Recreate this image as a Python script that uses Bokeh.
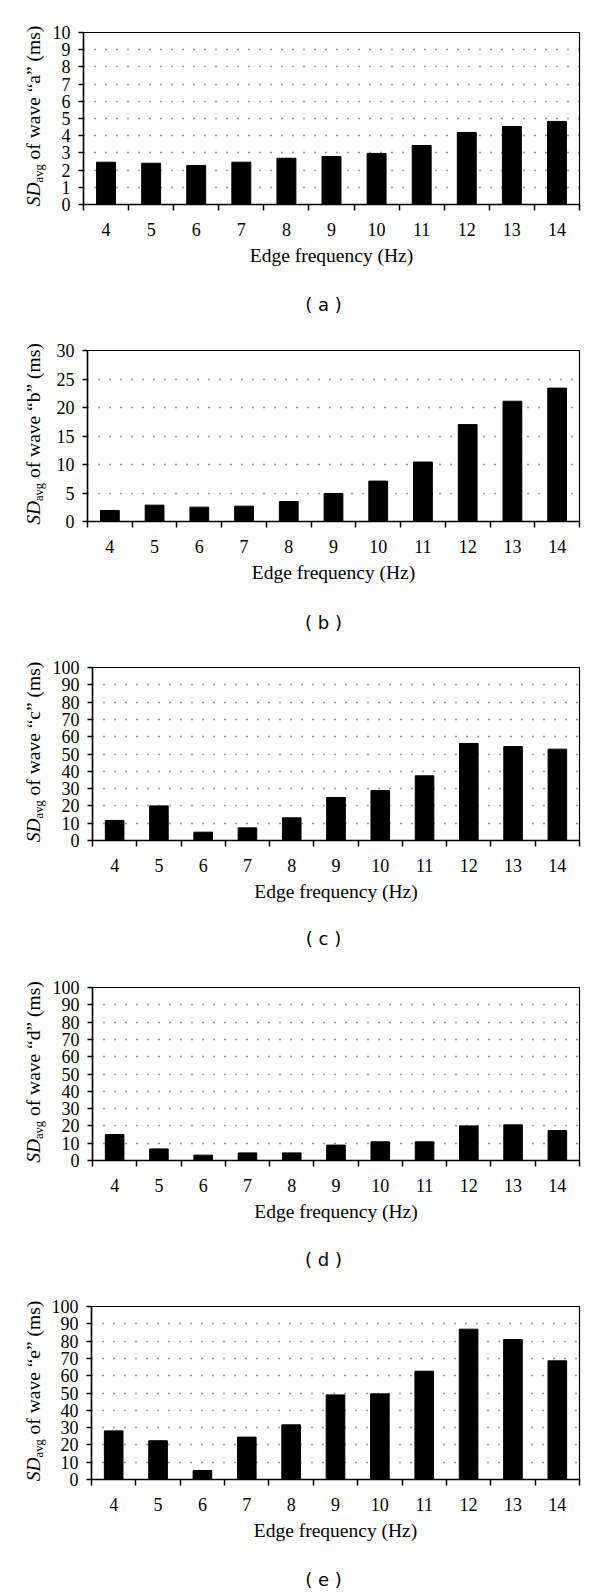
from bokeh.plotting import figure
from bokeh.models import Range1d, FixedTicker, LinearAxis, Div
from bokeh.layouts import column, row
from bokeh.embed import file_html
from bokeh.resources import INLINE

# ---------------- data ----------------
freqs = [4, 5, 6, 7, 8, 9, 10, 11, 12, 13, 14]
wave_a = [2.46, 2.40, 2.27, 2.46, 2.69, 2.79, 2.97, 3.43, 4.19, 4.53, 4.83]
wave_b = [1.93, 2.87, 2.52, 2.69, 3.50, 4.92, 7.09, 10.43, 17.0, 21.1, 23.4]
wave_c = [11.6, 20.0, 4.8, 7.3, 13.1, 24.9, 28.9, 37.4, 56.1, 54.3, 52.8]
wave_d = [15.0, 6.7, 3.1, 4.4, 4.4, 8.9, 10.8, 10.8, 20.0, 20.6, 17.3]
wave_e = [28.1, 22.4, 5.2, 24.5, 31.6, 48.9, 49.5, 62.6, 86.9, 80.9, 68.6]

yticks_a = [0, 1, 2, 3, 4, 5, 6, 7, 8, 9, 10]
yticks_b = [0, 5, 10, 15, 20, 25, 30]
yticks_cde = [0, 10, 20, 30, 40, 50, 60, 70, 80, 90, 100]

letters = ["a", "b", "c", "d", "e"]
x_title = "Edge frequency (Hz)"

SERIF = "Liberation Serif"
SANS = "DejaVu Sans"

# layout per panel: (page frame left, border top, frame height, border bottom, caption standoff)
layout = [
    (83, 32, 172, 114, 25),
    (87, 32, 171, 115, 26),
    (92, 31, 173, 115, 23),
    (92, 32, 173, 114, 24),
    (91, 32, 173, 113, 25),
]

TOTAL_W = 596
LAB_W = 48              # strip holding the rotated y title (HTML text)
MAIN_W = TOTAL_W - LAB_W
FRAME_RIGHT = 579
CAPTION_X = 323         # page x of the panel caption centre
YLAB_BASE_X = 40.5      # page x of the y-title baseline


def make_ylabel(letter, lay):
    frame_left, btop, fh, bbot, _ = lay
    h = btop + fh + bbot
    fs, sub = 19.5, 12.5
    base_in_line = (fs - 1.107 * fs) / 2 + 0.891 * fs
    left = YLAB_BASE_X - base_in_line
    top = btop + fh / 2 - 2
    html = (
        f'<div style="position:relative;width:{LAB_W}px;height:{h}px;">'
        f'<div style="position:absolute;left:{left:.1f}px;top:{top:.1f}px;'
        f'transform-origin:0 0;transform:rotate(-90deg) translateX(-50%);'
        f"white-space:nowrap;font-family:'{SERIF}';font-size:{fs}px;"
        f'line-height:{fs}px;color:#000;">'
        f'<i>SD</i><span style="font-size:{sub}px;position:relative;top:3px;">avg</span>'
        f' of wave &ldquo;{letter}&rdquo; (ms)</div></div>'
    )
    return Div(text=html, width=LAB_W, height=h, margin=0)


def make_panel(vals, yticks, letter, lay):
    frame_left, btop, fh, bbot, cap_standoff = lay
    ymax = yticks[-1]
    p = figure(width=MAIN_W, height=btop + fh + bbot,
               x_range=Range1d(freqs[0] - 0.5, freqs[-1] + 0.5),
               y_range=Range1d(0, ymax),
               output_backend="svg", toolbar_location=None, title=None,
               min_border_left=frame_left - LAB_W,
               min_border_right=TOTAL_W - FRAME_RIGHT,
               min_border_top=btop, min_border_bottom=bbot)
    p.outline_line_color = "black"
    p.outline_line_width = 1.2
    p.outline_line_alpha = 1.0

    p.vbar(x=freqs, top=vals, bottom=0, width=0.42,
           fill_color="black", line_color="black", line_width=1)

    # dotted horizontal grid
    p.xgrid.visible = False
    p.ygrid.ticker = FixedTicker(ticks=yticks[1:-1])
    p.ygrid.grid_line_color = "#333333"
    p.ygrid.grid_line_width = 1.3
    p.ygrid.grid_line_dash = "1 10"

    # y axis
    ya = p.yaxis[0]
    ya.ticker = FixedTicker(ticks=yticks)
    ya.axis_line_color = "black"
    ya.axis_line_width = 1.5
    ya.major_tick_out = 5
    ya.major_tick_in = 0
    ya.major_tick_line_width = 1.5
    ya.minor_tick_out = 0
    ya.minor_tick_in = 0
    ya.major_label_standoff = 8
    ya.major_label_text_font = SERIF
    ya.major_label_text_font_size = "18px"
    ya.major_label_text_color = "black"

    # x axis: labels at centres, ticks at category boundaries
    xa = p.xaxis[0]
    bounds = [f - 0.5 for f in freqs] + [freqs[-1] + 0.5]
    xa.ticker = FixedTicker(ticks=freqs, minor_ticks=bounds)
    xa.axis_line_color = "black"
    xa.axis_line_width = 1.5
    xa.major_tick_line_color = None
    xa.major_tick_out = 0
    xa.major_tick_in = 0
    xa.minor_tick_out = 6
    xa.minor_tick_in = 0
    xa.minor_tick_line_color = "black"
    xa.minor_tick_line_width = 1.5
    xa.major_label_standoff = 12
    xa.major_label_text_font = SERIF
    xa.major_label_text_font_size = "18px"
    xa.major_label_text_color = "black"
    xa.axis_label = x_title
    xa.axis_label_text_font = SERIF
    xa.axis_label_text_font_size = "19.5px"
    xa.axis_label_text_font_style = "normal"
    xa.axis_label_text_color = "black"
    xa.axis_label_standoff = 6

    # panel caption as a tick-less axis below (range in page pixels around the caption centre)
    p.extra_x_ranges = {"cap": Range1d(frame_left - CAPTION_X, FRAME_RIGHT - CAPTION_X)}
    cap = LinearAxis(x_range_name="cap", ticker=FixedTicker(ticks=[0]),
                     major_label_overrides={0: "( " + letter + " )"})
    cap.axis_line_color = None
    cap.major_tick_line_color = None
    cap.minor_tick_line_color = None
    cap.major_tick_out = 0
    cap.major_tick_in = 0
    cap.minor_tick_out = 0
    cap.minor_tick_in = 0
    cap.major_label_standoff = cap_standoff
    cap.major_label_text_font = SANS
    cap.major_label_text_font_size = "18px"
    cap.major_label_text_color = "black"
    p.add_layout(cap, "below")
    return p


series = [wave_a, wave_b, wave_c, wave_d, wave_e]
ticks = [yticks_a, yticks_b, yticks_cde, yticks_cde, yticks_cde]
rows = []
for v, t, l, lay in zip(series, ticks, letters, layout):
    rows.append(row(make_ylabel(l, lay), make_panel(v, t, l, lay), spacing=0))

page = column(*rows, spacing=0)
open("out.html", "w").write(file_html(page, INLINE))
